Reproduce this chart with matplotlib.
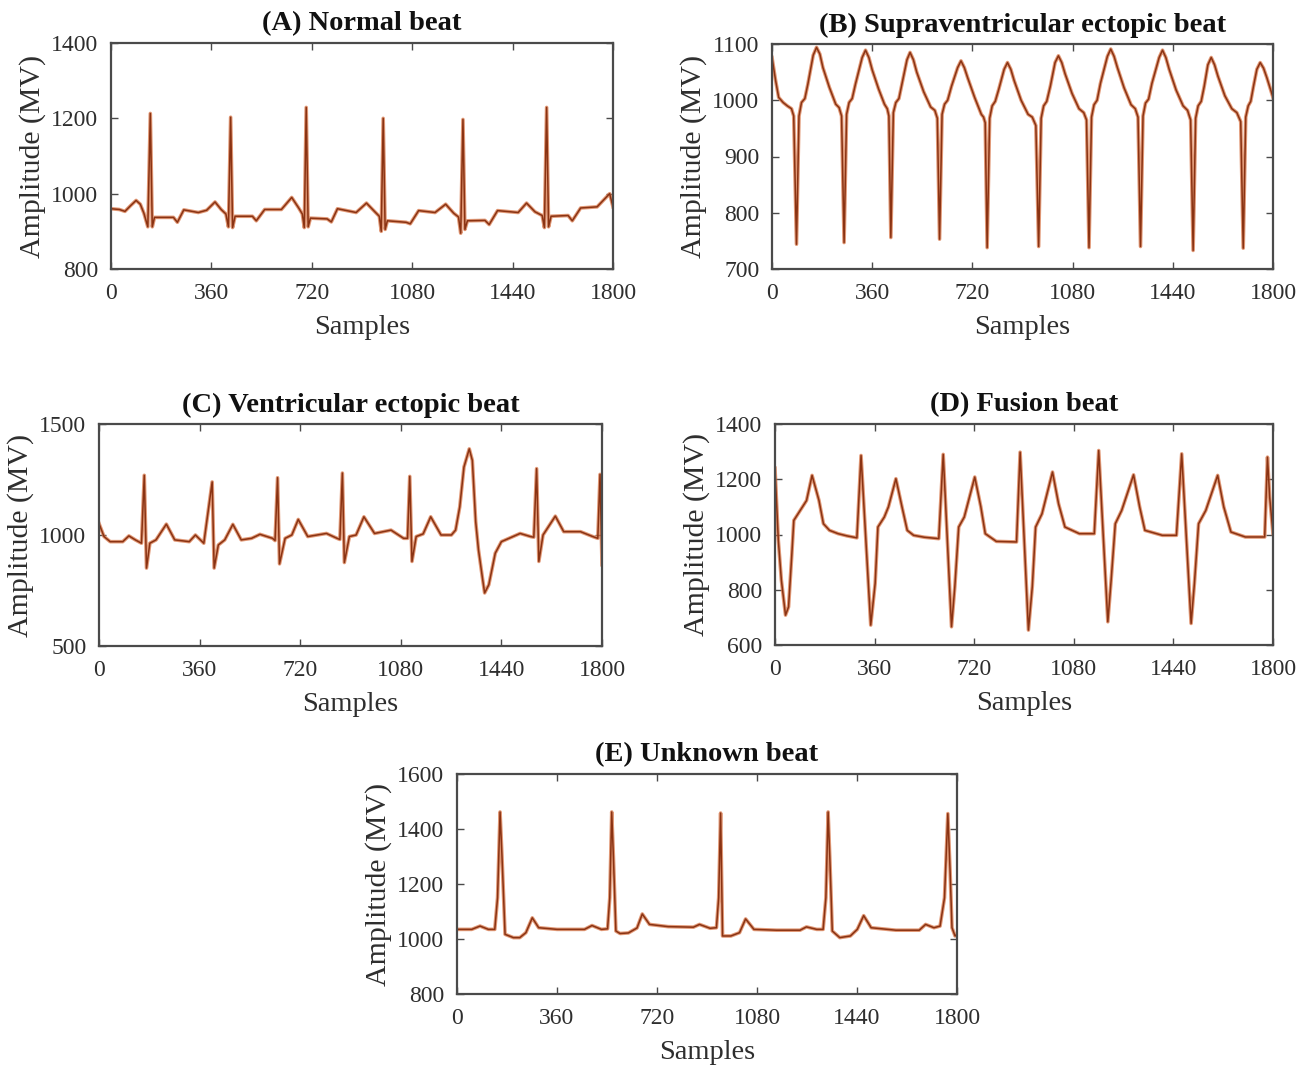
"""
ECG beat classes - five panel figure
Recreates the MIT-BIH style beat examples (samples vs amplitude).
"""

import matplotlib
matplotlib.use("Agg")
import matplotlib.pyplot as plt

# ---- data ----
X_TICKS = [0, 360, 720, 1080, 1440, 1800]

# (A) Normal beat
A_SAMPLES = [0, 30, 50, 70, 90, 105, 118, 132, 141, 148, 156,
             224, 238, 261, 313, 343, 373, 395, 412, 421, 429, 436, 445,
             507, 521, 551, 611, 648, 673, 686, 693, 700, 707, 715,
             775, 790, 812, 879, 916, 946, 962, 969, 976, 983, 991,
             1058, 1073, 1103, 1162, 1200, 1229, 1246, 1254, 1262, 1269, 1278,
             1341, 1356, 1386, 1460, 1490, 1520, 1546, 1554, 1562, 1569, 1578,
             1639, 1654, 1684, 1743, 1788, 1800]
A_AMP = [960, 958, 953, 968, 982, 972, 948, 912, 1213, 912, 937,
         937, 924, 957, 950, 956, 978, 958, 946, 912, 1203, 910, 940,
         940, 928, 958, 958, 990, 962, 946, 910, 1229, 912, 935,
         933, 925, 960, 950, 975, 952, 940, 900, 1200, 905, 928,
         924, 920, 955, 950, 972, 948, 938, 895, 1197, 905, 928,
         929, 918, 955, 950, 975, 952, 942, 910, 1229, 912, 940,
         942, 928, 962, 965, 1000, 965]
A_YTICKS = [800, 1000, 1200, 1400]

# (B) Supraventricular ectopic beat
B_SAMPLES = [0, 13, 24, 40, 55, 70, 78, 88, 97, 106, 118, 129, 148, 160, 172, 183, 206, 229, 241, 250, 259,
             268, 277, 288, 300, 324, 336, 348, 360, 383, 404, 414, 420, 427,
             436, 445, 456, 466, 485, 496, 508, 520, 545, 570, 585, 594, 602,
             611, 620, 631, 645, 667, 679, 691, 703, 728, 752, 760, 766, 773,
             782, 791, 802, 815, 834, 846, 858, 870, 895, 920, 935, 948, 958,
             967, 976, 987, 1000, 1017, 1029, 1041, 1053, 1078, 1103, 1120, 1130, 1139,
             1148, 1157, 1168, 1180, 1205, 1217, 1229, 1241, 1265, 1290, 1305, 1315, 1324,
             1333, 1342, 1353, 1365, 1391, 1403, 1415, 1427, 1452, 1477, 1493, 1504, 1513,
             1522, 1531, 1542, 1553, 1566, 1578, 1590, 1602, 1627, 1652, 1670, 1684, 1693,
             1702, 1711, 1720, 1730, 1742, 1754, 1766, 1778, 1800]
B_AMP = [1076, 1035, 1005, 996, 990, 985, 972, 744, 972, 996, 1003, 1029, 1080, 1094, 1082, 1058, 1023, 993, 987, 972, 747,
         975, 996, 1003, 1029, 1076, 1089, 1076, 1054, 1020, 993, 985, 972, 756,
         978, 996, 1003, 1027, 1072, 1085, 1072, 1050, 1015, 988, 982, 968, 753,
         975, 993, 1000, 1025, 1058, 1070, 1058, 1040, 1005, 975, 970, 960, 738,
         968, 990, 998, 1020, 1055, 1067, 1055, 1035, 1000, 975, 970, 955, 740,
         968, 990, 998, 1025, 1067, 1079, 1067, 1047, 1012, 985, 978, 965, 738,
         970, 992, 1000, 1030, 1078, 1091, 1078, 1058, 1022, 992, 985, 970, 740,
         972, 995, 1002, 1030, 1076, 1089, 1076, 1055, 1018, 990, 982, 965, 733,
         968, 990, 998, 1025, 1063, 1076, 1063, 1043, 1008, 985, 978, 962, 737,
         970, 990, 998, 1025, 1055, 1067, 1057, 1040, 1005]
B_YTICKS = [700, 800, 900, 1000, 1100]

# (C) Ventricular ectopic beat
C_SAMPLES = [0, 18, 40, 85, 107, 130, 152, 162, 170, 182, 204, 241, 271,
             323, 345, 375, 405, 412, 427, 450, 479, 509,
             546, 576, 621, 630, 639, 646, 666, 690, 713, 747,
             814, 852, 862, 871, 878, 896, 920, 948, 986,
             1045, 1090, 1104, 1112, 1120, 1135, 1160, 1187, 1224,
             1261, 1276, 1291, 1306, 1325, 1336, 1348, 1358, 1373, 1380, 1395, 1418, 1440,
             1507, 1544, 1556, 1566, 1574, 1589, 1633, 1663, 1723, 1767, 1785, 1793, 1800]
C_AMP = [1052, 993, 970, 970, 996, 978, 963, 1269, 851, 963, 978, 1049, 978,
         970, 1000, 963, 1239, 851, 955, 978, 1048, 978,
         985, 1003, 985, 975, 1258, 870, 985, 1000, 1070, 993,
         1007, 985, 980, 1279, 876, 993, 1000, 1082, 1007,
         1022, 985, 985, 1264, 881, 993, 1005, 1082, 1000,
         1000, 1022, 1127, 1306, 1388, 1336, 1060, 933, 799, 739, 776, 918, 970,
         1007, 993, 990, 1299, 881, 1000, 1085, 1015, 1015, 993, 985, 1273, 866]
C_YTICKS = [500, 1000, 1500]

# (D) Fusion beat
D_SAMPLES = [0, 12, 23, 38, 49, 61, 68, 91, 114, 134, 159, 175, 197, 228, 260, 296,
             311, 346, 362, 372, 395, 410, 437, 459, 478, 501, 540, 592,
             608, 638, 650, 664, 684, 722, 744, 760, 800, 873,
             886, 916, 930, 942, 965, 1003, 1025, 1048, 1100, 1154,
             1170, 1203, 1215, 1230, 1253, 1296, 1318, 1337, 1400, 1451,
             1470, 1504, 1516, 1531, 1557, 1600, 1622, 1648, 1700, 1770,
             1780, 1788, 1800]
D_AMP = [1240, 979, 835, 708, 738, 931, 1051, 1087, 1123, 1214, 1123, 1039, 1015, 1003, 995, 988,
         1286, 672, 823, 1027, 1063, 1100, 1202, 1100, 1015, 997, 990, 985,
         1290, 666, 811, 1027, 1063, 1208, 1100, 1003, 975, 973,
         1298, 654, 811, 1027, 1075, 1226, 1111, 1027, 1003, 1003,
         1304, 684, 835, 1039, 1087, 1216, 1100, 1015, 997, 997,
         1292, 678, 823, 1039, 1087, 1214, 1100, 1009, 991, 991,
         1280, 1135, 1003]
D_YTICKS = [600, 800, 1000, 1200, 1400]

# (E) Unknown beat
E_SAMPLES = [0, 53, 83, 113, 136, 146, 155, 162, 173, 203, 226, 248, 271, 294, 360,
             459, 486, 520, 542, 550, 557, 563, 572, 587, 617, 648, 667, 693, 760,
             851, 873, 911, 934, 942, 949, 953, 956, 986, 1017, 1039, 1069, 1150,
             1235, 1258, 1295, 1318, 1328, 1336, 1342, 1351, 1378, 1416, 1441, 1464, 1491, 1580,
             1664, 1687, 1717, 1739, 1755, 1767, 1775, 1782, 1793, 1800]
E_AMP = [1035, 1035, 1047, 1035, 1035, 1150, 1462, 1300, 1017, 1005, 1005, 1023, 1077, 1041, 1035,
         1035, 1049, 1035, 1037, 1150, 1462, 1300, 1029, 1020, 1022, 1040, 1091, 1053, 1045,
         1043, 1053, 1039, 1041, 1150, 1458, 1200, 1011, 1011, 1023, 1073, 1035, 1032,
         1032, 1044, 1035, 1035, 1150, 1462, 1300, 1029, 1005, 1011, 1035, 1085, 1041, 1032,
         1032, 1053, 1041, 1047, 1150, 1456, 1250, 1041, 1011, 1017]
E_YTICKS = [800, 1000, 1200, 1400, 1600]

TITLES = ['Normal beat', 'Supraventricular ectopic beat', 'Ventricular ectopic beat',
          'Fusion beat', 'Unknown beat']
LETTERS = ['A', 'B', 'C', 'D', 'E']

# axes boxes in pixels: left, top, right, bottom (figure is 1315 x 1070)
BOXES = [(111, 43, 613, 269), (772, 44, 1273, 269), (99, 424, 602, 646),
         (775, 424, 1273, 645), (457, 774, 957, 994)]

W, H = 1315, 1070
SERIF = 'Liberation Serif'
FRAME = '#4a4a4a'
TEXT = '#2e2e2e'


def create_figure():
    panels = [
        (A_SAMPLES, A_AMP, A_YTICKS),
        (B_SAMPLES, B_AMP, B_YTICKS),
        (C_SAMPLES, C_AMP, C_YTICKS),
        (D_SAMPLES, D_AMP, D_YTICKS),
        (E_SAMPLES, E_AMP, E_YTICKS),
    ]

    fig = plt.figure(figsize=(W / 100, H / 100), dpi=100)

    for (xs, ys, yticks), title, letter, box in zip(panels, TITLES, LETTERS, BOXES):
        l, t, r, b = box
        ax = fig.add_axes([l / W, 1 - b / H, (r - l) / W, (b - t) / H])

        # orange halo + dark core, like the blurry original trace
        ax.plot(xs, ys, color='#d8774a', lw=2.6, alpha=0.75, solid_joinstyle='round')
        ax.plot(xs, ys, color='#8a3313', lw=1.1, solid_joinstyle='round')

        ax.set_xlim(0, 1800)
        ax.set_ylim(yticks[0], yticks[-1])
        ax.set_xticks(X_TICKS)
        ax.set_yticks(yticks)
        ax.tick_params(direction='in', top=True, right=True, length=5, width=1.0,
                       color=FRAME, labelsize=17, labelcolor=TEXT)
        ax.tick_params(axis='x', pad=10)
        ax.tick_params(axis='y', pad=9)
        for lab in ax.get_xticklabels() + ax.get_yticklabels():
            lab.set_fontfamily(SERIF)
        for sp in ax.spines.values():
            sp.set_color(FRAME)
            sp.set_linewidth(1.6)

        ax.set_xlabel('Samples', fontsize=20.5, family=SERIF, color=TEXT, labelpad=8)
        ax.set_ylabel('Amplitude (MV)', fontsize=21.5, family=SERIF, color=TEXT, labelpad=4)
        ax.set_title(f'({letter}) {title}', fontsize=20.5, family=SERIF,
                     fontweight='bold', color='#111111', pad=9)

    fig.savefig('out.png', dpi=100)
    plt.close(fig)
    print('saved out.png')


if __name__ == '__main__':
    create_figure()
